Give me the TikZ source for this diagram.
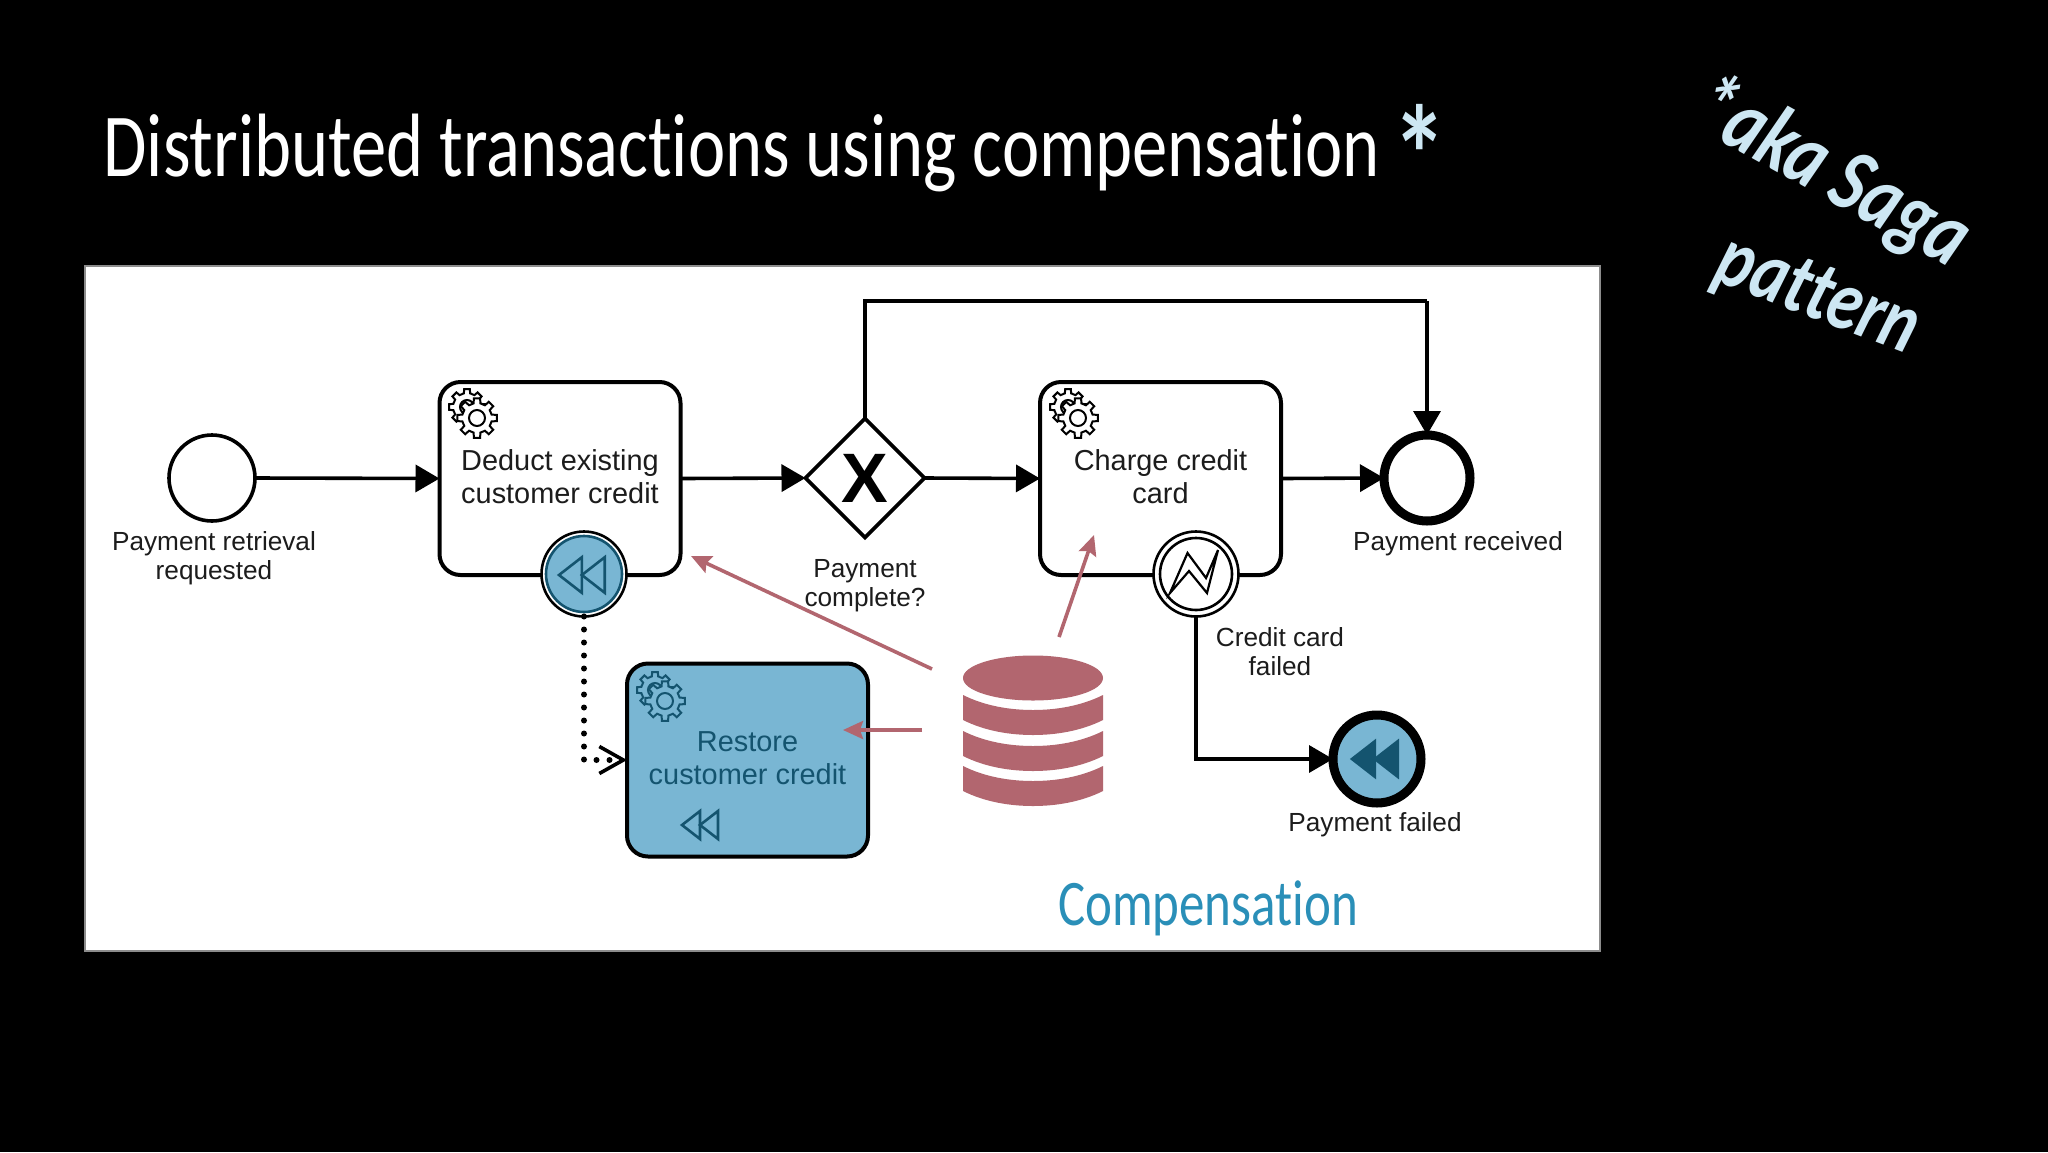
\documentclass[tikz,border=0pt]{standalone}
\usepackage{fontspec}
\setmainfont{Liberation Sans}
\newfontfamily\handfont[FakeStretch=0.784,Ligatures=NoCommon]{Carlito}
\usetikzlibrary{arrows.meta}
\usetikzlibrary{shapes.geometric}
\definecolor{compblue}{HTML}{79B6D3}
\definecolor{compdark}{HTML}{14546F}
\definecolor{dbrose}{HTML}{B2666F}
\definecolor{inktext}{HTML}{1C1C1C}
\definecolor{sagablue}{HTML}{CDE7F3}
\definecolor{handblue}{HTML}{2A8FB8}
\newcommand{\gearoutline}[2]{% inner radius, outer radius
  (-13:#1) \foreach \a in {0,45,...,315} {
    -- (\a-13:#1) -- (\a-9:#2) -- (\a+9:#2) -- (\a+13:#1) } -- cycle}
\tikzset{
  flowline/.style={line width=3.6pt,draw=black,-{Triangle[length=24pt,width=27pt]}},
  plainline/.style={line width=3.6pt,draw=black},
  taskbox/.style={draw=black,line width=4pt,rounded corners=21pt,fill=white,minimum width=241pt,minimum height=193pt,
    outer sep=0pt,align=center,text=inktext,font=\fontsize{28.9}{33}\selectfont},
  eventlabel/.style={align=center,text=inktext,font=\fontsize{26.2}{29}\selectfont},
  rosearrow/.style={draw=dbrose,line width=3.6pt,-{Stealth[length=20pt,width=18pt,inset=3pt]}},
  ringevent/.style={circle,draw=black,fill=white,inner sep=0pt,outer sep=0pt},
  titletext/.style={text=white,font=\handfont\fontsize{90}{90}\selectfont},
  sagatext/.style={text=sagablue,align=center,font=\handfont\itshape\bfseries\fontsize{90}{90}\selectfont},
  pics/gearicon/.style 2 args={code={
    \draw[draw=#1,line width=2pt,fill=#2] \gearoutline{14}{18};
    \draw[draw=#1,line width=2pt] (0,0) circle (7);
    \begin{scope}[shift={(10,11)}]
    \draw[draw=#1,line width=2pt,fill=#2] \gearoutline{15}{20};
    \draw[draw=#1,line width=2pt,fill=#2] (0,0) circle (8);
    \end{scope}
  }},
  pics/rewindicon/.style 2 args={code={
    \draw[draw=#1,fill=#2,line width=2.6pt,line join=miter] (0,0) -- (18,-14) -- (18,14) -- cycle;
    \draw[draw=#1,fill=#2,line width=2.6pt,line join=miter] (18,0) -- (36,-14) -- (36,14) -- cycle;
  }},
}

\begin{document}
\begin{tikzpicture}[x=1pt,y=-1pt]
\useasboundingbox (0,0) rectangle (2048,1152);
\fill[black] (0,0) rectangle (2048,1152);
\draw[draw=black!45,line width=1.5pt,fill=white] (85,266) rectangle (1600,951);
% heading and side note
\node[titletext,anchor=west] (headline) at (100,153) {Distributed transactions using compensation};
\node[text=sagablue,font=\handfont\bfseries\fontsize{140}{140}\selectfont] (starmark) at (1420,154) {*};
\node[sagatext,rotate=-29] (sagaone) at (1831,174) {*aka Saga};
\node[sagatext,rotate=-21,font=\handfont\itshape\bfseries\fontsize{86}{86}\selectfont] (sagatwo) at (1817,298) {pattern};
\node[text=handblue,font=\handfont\fontsize{65}{65}\selectfont] (comptitle) at (1208,908) {Compensation};
% process nodes
\node[ringevent,line width=3.6pt,minimum size=86pt] (retrieval) at (212,478) {};
\node[taskbox] (deduct) at (560,478.5) {Deduct existing\\customer credit\\[-29pt]};
\node[diamond,draw=black,line width=3.6pt,fill=white,aspect=1,inner sep=0pt,outer sep=0pt,minimum width=119pt,minimum height=119pt,
  font=\bfseries\fontsize{70}{70}\selectfont] (complete) at (865,478) {X};
\node[taskbox] (charge) at (1160.5,478.5) {Charge credit\\card\\[-29pt]};
\node[ringevent,line width=9pt,minimum size=86pt] (received) at (1427,478) {};
\node[taskbox,fill=compblue,text=compdark] (restore) at (747.5,760) {Restore\\customer credit\\[-29pt]};
\node[ringevent,line width=9pt,fill=compblue,minimum size=88pt] (failed) at (1377,759) {};
\node[ringevent,line width=2.6pt,minimum size=85pt] (compring) at (584,574) {};
\node[circle,draw=compdark,fill=compblue,line width=2.6pt,inner sep=0pt,minimum size=76pt] (compinner) at (584,574) {};
\node[ringevent,line width=2.6pt,minimum size=85pt] (errorring) at (1196,574) {};
\node[circle,draw=black,line width=2.6pt,inner sep=0pt,minimum size=72pt] (errorinner) at (1196,574) {};
\coordinate (topturn) at (1427,301);
% labels
\node[eventlabel] (retrievallabel) at (214,558) {Payment retrieval\\requested};
\node[eventlabel] (completelabel) at (865,586) {Payment\\complete?};
\node[eventlabel] (receivedlabel) at (1458,544) {Payment received};
\node[eventlabel] (cardlabel) at (1280,652) {Credit card\\failed};
\node[eventlabel] (failedlabel) at (1375,825) {Payment failed};
% connectors
\draw[flowline] (retrieval.east) -- (deduct.west);
\draw[flowline] (deduct.east) -- (complete.west);
\draw[flowline] (complete.east) -- (charge.west);
\draw[flowline] (charge.east) -- (received.west);
\draw[plainline] (complete.north) |- (topturn);
\draw[flowline] (topturn) -- (received.north);
\draw[flowline] (errorring.south) |- (failed.west);
\draw[line width=6pt,line cap=round,dash pattern=on 0pt off 13pt,-{Straight Barb[length=24pt,width=27pt,line width=3.6pt]}] (compring.south) |- (restore.west);
% icons
\pic at (467,407) {gearicon={black}{white}};
\pic at (1068,407) {gearicon={black}{white}};
\pic at (655,690) {gearicon={compdark}{compblue}};
\pic[scale=1.27] at (559,575) {rewindicon={compdark}{compblue}};
\pic at (682,825) {rewindicon={compdark}{compblue}};
\pic[scale=1.27] at (1352,759) {rewindicon={compdark}{compdark}};
\draw[shift={(errorring.center)},line width=2.2pt,line join=miter] (-26,19) -- (-8.5,-21) -- (10,4) -- (22,-24) -- (11,19) -- (-7,-3) -- cycle;
% database
\fill[dbrose] (1033,678) ellipse (70 and 22.5);
\foreach \dbshift in {0,36,71} {
  \fill[dbrose,shift={(0,\dbshift)}] (963,695) .. controls (985,706) and (1010,710) .. (1033,710)
    .. controls (1056,710) and (1081,706) .. (1103,695) -- (1103,720)
    .. controls (1081,731) and (1056,735) .. (1033,735)
    .. controls (1010,735) and (985,731) .. (963,720) -- cycle;
}
% arrows from the database
\coordinate (dbwestup) at (932,669);
\coordinate (dbwest) at (922,730);
\coordinate (dbnorth) at (1059,637);
\coordinate (deductcorner) at (691,556);
\coordinate (restoreedge) at (843,730);
\coordinate (chargeinside) at (1094,535);
\draw[rosearrow] (dbwestup) -- (deductcorner);
\draw[rosearrow] (dbwest) -- (restoreedge);
\draw[rosearrow] (dbnorth) -- (chargeinside);
\end{tikzpicture}
\end{document}
